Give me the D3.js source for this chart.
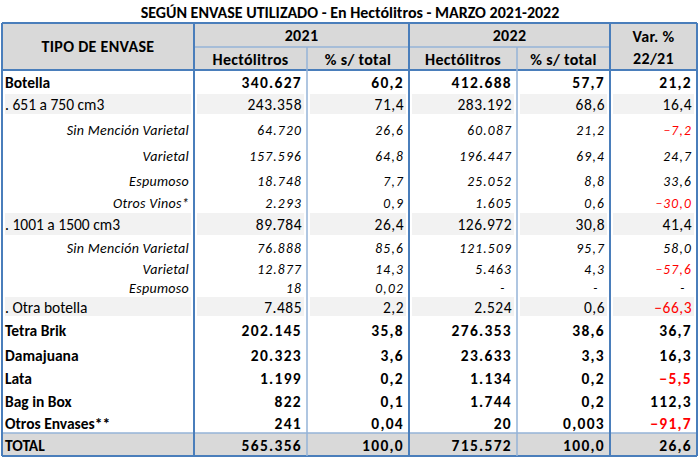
<!DOCTYPE html>
<html>
<head>
<meta charset="utf-8">
<script src="https://cdn.jsdelivr.net/npm/d3@7"></script>
<style>
  body { margin: 0; background: #fff; }
  svg { display: block; }
  text { font-family: Carlito, Calibri, Lato, sans-serif; fill: #000; }
  .title { font-weight: bold; font-size: 16px; }
  .hdr { font-weight: bold; font-size: 16px; letter-spacing: 0.3px; }
  .bold { font-weight: bold; font-size: 15.5px; }
  .bold.num { letter-spacing: 1.3px; }
  .regular { font-size: 15.5px; }
  .regular.num { letter-spacing: 0.5px; }
  .italic { font-style: italic; font-size: 14px; letter-spacing: 0.3px; }
  .italic.num { font-size: 13.5px; letter-spacing: 1.2px; }
  .neg { fill: #ff0000; }
</style>
</head>
<body>
<svg id="chart" width="700" height="457"></svg>
<script>
var title = 'SEGÚN ENVASE UTILIZADO - En Hectólitros - MARZO 2021-2022';
var years = ['2021', '2022'];
var subHeaders = ['Hectólitros', '% s/ total'];

var labels = ['Botella', '. 651 a 750 cm3', 'Sin Mención Varietal', 'Varietal', 'Espumoso', 'Otros Vinos*',
  '. 1001 a 1500 cm3', 'Sin Mención Varietal ', 'Varietal', 'Espumoso', '. Otra botella',
  'Tetra Brik', 'Damajuana', 'Lata', 'Bag in Box', 'Otros Envases**', 'TOTAL'];
var rowKinds = ['bold', 'regular', 'italic', 'italic', 'italic', 'italic',
  'regular', 'italic', 'italic', 'italic', 'regular',
  'bold', 'bold', 'bold', 'bold', 'bold', 'total'];

var hl2021 = [340627, 243358, 64720, 157596, 18748, 2293, 89784, 76888, 12877, 18, 7485, 202145, 20323, 1199, 822, 241, 565356];
var pct2021 = [60.2, 71.4, 26.6, 64.8, 7.7, 0.9, 26.4, 85.6, 14.3, 0.02, 2.2, 35.8, 3.6, 0.2, 0.1, 0.04, 100.0];
var hl2022 = [412688, 283192, 60087, 196447, 25052, 1605, 126972, 121509, 5463, null, 2524, 276353, 23633, 1134, 1744, 20, 715572];
var pct2022 = [57.7, 68.6, 21.2, 69.4, 8.8, 0.6, 30.8, 95.7, 4.3, null, 0.6, 38.6, 3.3, 0.2, 0.2, 0.003, 100.0];
var varPct = [21.2, 16.4, -7.2, 24.7, 33.6, -30.0, 41.4, 58.0, -57.6, null, -66.3, 36.7, 16.3, -5.5, 112.3, -91.7, 26.6];

// layout
var rowHeights = [23, 22, 29, 24, 25, 19, 24, 23, 20, 17, 21, 26, 23, 23, 23, 21, 23];
var colEdges = [2, 194, 307, 409, 517, 610, 697];
var tableTop = 23, headMid = 47, headBottom = 70;
var blue = '#4a7ebb', lightBlue = '#95b3d7';

var locale = d3.formatLocale({ decimal: ',', thousands: '.', grouping: [3], currency: ['', ''] });
var fmtInt = locale.format(',.0f');
var fmtOne = locale.format(',.1f');
var fmtSig = locale.format('.1r');
function fmtPct(v) {
  if (v == null) return '-';
  return Math.abs(v) < 0.1 ? fmtSig(v) : fmtOne(v);
}
function fmtHl(v) { return v == null ? '-' : fmtInt(v); }

var svg = d3.select('#chart');

var rowTops = [headBottom];
rowHeights.forEach(function (h, i) { rowTops.push(rowTops[i] + h); });
var y = d3.scaleOrdinal().domain(d3.range(labels.length)).range(rowTops.slice(0, labels.length));

var cols = d3.range(6);
var x0 = d3.scaleOrdinal().domain(cols).range(colEdges.slice(0, 6));
var x1 = d3.scaleOrdinal().domain(cols).range(colEdges.slice(1));

// backgrounds
var bg = svg.append('g');
bg.append('rect').attr('x', colEdges[0]).attr('y', tableTop).attr('width', colEdges[6] - colEdges[0]).attr('height', headBottom - tableTop).attr('fill', '#d9d9d9');

labels.forEach(function (l, i) {
  var kind = rowKinds[i];
  var fill = kind === 'total' ? '#d9d9d9' : (kind === 'regular' ? '#f2f2f2' : null);
  if (!fill) return;
  var inset = kind === 'total' ? 0 : 3;
  bg.selectAll(null).data(cols).enter().append('rect')
    .attr('x', function (c) { return x0(c) + inset; })
    .attr('y', y(i) + (kind === 'total' ? 0 : 1))
    .attr('width', function (c) { return x1(c) - x0(c) - 2 * inset; })
    .attr('height', rowHeights[i] - (kind === 'total' ? 0 : 2))
    .attr('fill', fill);
});

// title
svg.append('text').attr('class', 'title').attr('x', 350).attr('y', 18).attr('text-anchor', 'middle').text(title);

// headers
var hg = svg.append('g');
function hdr(x, yy, t) {
  hg.append('text').attr('class', 'hdr').attr('x', x).attr('y', yy).attr('text-anchor', 'middle').text(t);
}
hdr((colEdges[0] + colEdges[1]) / 2, 52, 'TIPO DE ENVASE');
years.forEach(function (yr, k) {
  var a = colEdges[1 + 2 * k], b = colEdges[3 + 2 * k];
  hdr((a + b) / 2, 41, yr);
  subHeaders.forEach(function (s, j) {
    var c = 1 + 2 * k + j;
    hdr((x0(c) + x1(c)) / 2, 65, s);
  });
});
hdr((colEdges[5] + colEdges[6]) / 2, 42, 'Var. %');
hdr((colEdges[5] + colEdges[6]) / 2, 64, '22/21');

// body
var body = svg.append('g');
labels.forEach(function (l, i) {
  var kind = rowKinds[i];
  var cls = kind === 'total' ? 'bold' : kind;
  var base = y(i) + rowHeights[i] / 2 + 6 - (kind === 'italic' ? 1 : 0);
  var lx = kind === 'italic' ? x1(0) - 5 : x0(0) + 3;
  body.append('text').attr('class', cls).attr('x', lx).attr('y', base)
    .attr('text-anchor', kind === 'italic' ? 'end' : 'start')
    .text(l);
  var vals = [fmtHl(hl2021[i]), fmtPct(pct2021[i]), fmtHl(hl2022[i]), fmtPct(pct2022[i]), fmtPct(varPct[i])];
  vals.forEach(function (v, j) {
    var c = j + 1;
    var t = body.append('text').attr('class', cls + ' num').attr('y', base)
      .attr('x', v === '-' ? x1(c) - 14 : x1(c) - 5)
      .attr('text-anchor', v === '-' ? 'middle' : 'end').text(v);
    if (j === 4 && varPct[i] != null && varPct[i] < 0) t.classed('neg', true);
  });
});

// grid lines
var lines = svg.append('g').attr('fill', 'none');
function hline(x, x2, yy, color, w) {
  lines.append('line').attr('x1', x).attr('x2', x2).attr('y1', yy).attr('y2', yy).attr('stroke', color).attr('stroke-width', w);
}
function vline(xx, y1, y2, color, w) {
  lines.append('line').attr('x1', xx).attr('x2', xx).attr('y1', y1).attr('y2', y2).attr('stroke', color).attr('stroke-width', w);
}
var bottom = rowTops[labels.length];
var totalTop = y(labels.length - 1);
hline(colEdges[0], colEdges[6], tableTop, blue, 2);
hline(colEdges[1], colEdges[5], headMid, lightBlue, 1.5);
hline(colEdges[0], colEdges[6], headBottom, blue, 2);
hline(colEdges[0], colEdges[6], totalTop, lightBlue, 1.5);
hline(colEdges[0], colEdges[6], bottom, blue, 2);
[0, 1, 3, 5, 6].forEach(function (k) { vline(colEdges[k], tableTop, bottom, blue, 2); });
[2, 4].forEach(function (k) { vline(colEdges[k], headMid, bottom, lightBlue, 1.5); });
</script>
</body>
</html>
